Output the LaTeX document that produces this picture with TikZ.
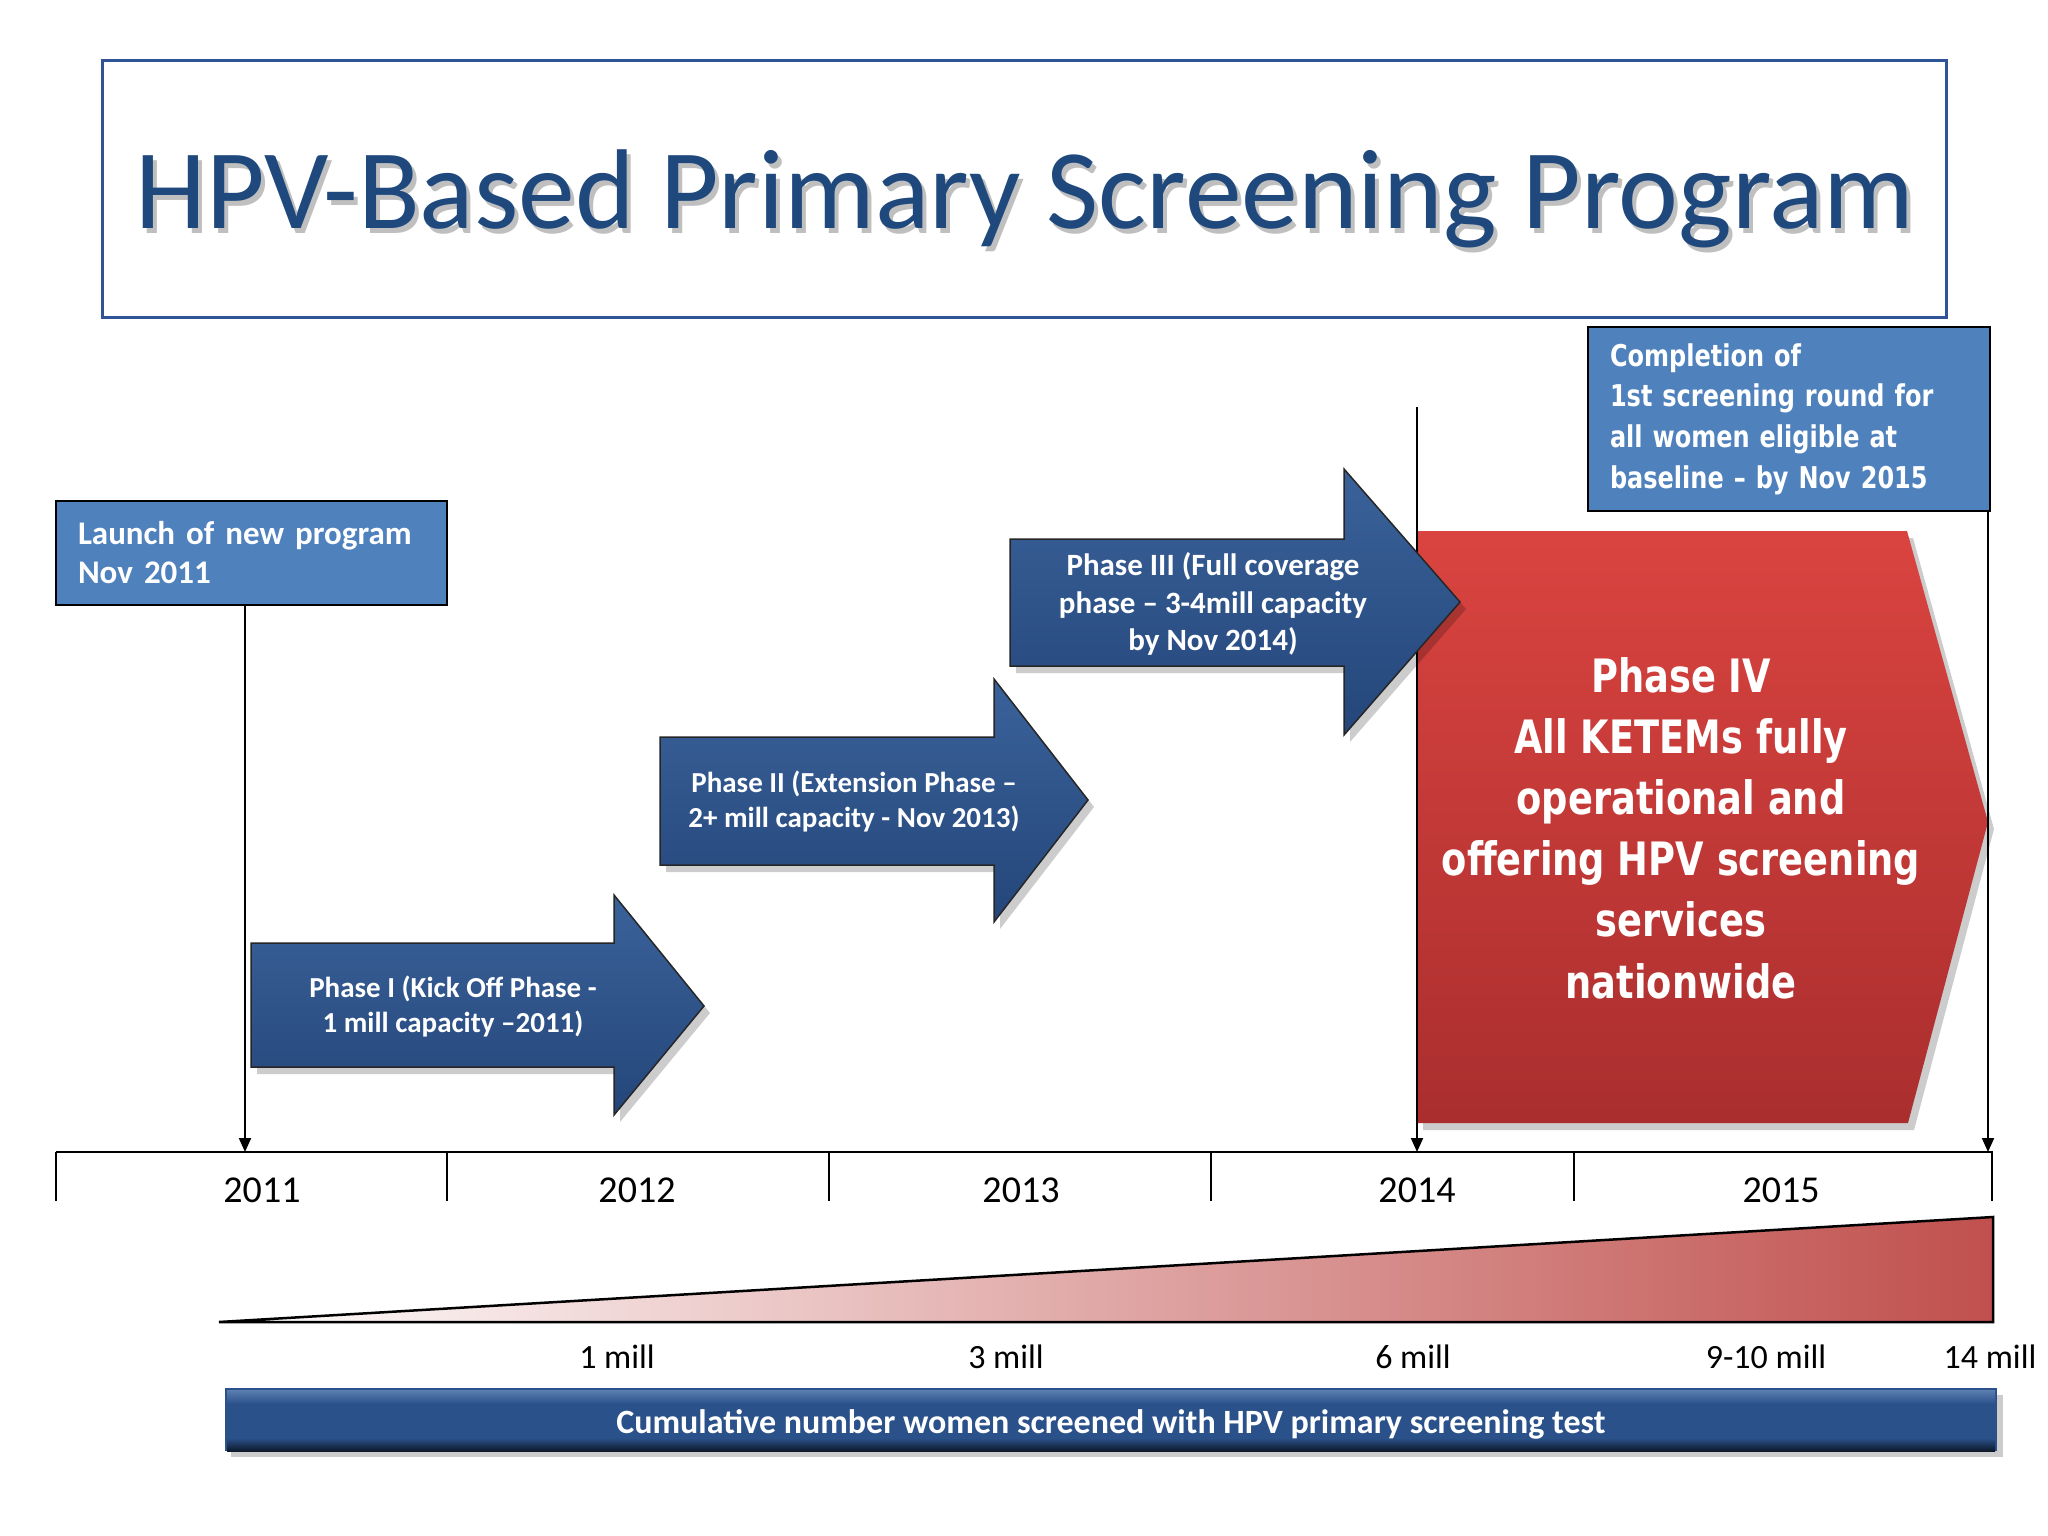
\documentclass[tikz,border=0pt]{standalone}
\usepackage{fontspec}
\setmainfont{Carlito}
\newfontfamily\tahoma[FakeStretch=0.8]{DejaVu Sans}
\usetikzlibrary{arrows.meta}
\definecolor{titleblue}{RGB}{31,73,125}
\definecolor{frameblue}{RGB}{47,85,151}
\definecolor{boxblue}{RGB}{79,129,189}
\definecolor{arrowblueL}{RGB}{58,98,154}
\definecolor{arrowblueD}{RGB}{36,70,122}
\definecolor{barblue}{RGB}{42,81,138}
\definecolor{barblueL}{RGB}{92,126,176}
\definecolor{redtop}{RGB}{218,68,64}
\definecolor{redbot}{RGB}{170,46,46}
\definecolor{gradred}{RGB}{192,80,77}
\tikzset{
  vline/.style={line width=2pt, -{Triangle[length=14pt,width=12pt]}},
  bluebox/.style={draw=black, line width=2pt, fill=boxblue, text=white, align=left, inner ysep=0pt},
  phasetext/.style={text=white, align=center, inner sep=0pt, font=\bfseries\fontsize{29}{35}\selectfont},
  arrowshape/.style={draw=black!85, line width=1.5pt, top color=arrowblueL, bottom color=arrowblueD},
  shadowshape/.style={fill=black, opacity=0.2, shift={(6,7)}},
  yearlbl/.style={anchor=base, inner sep=0pt, font=\fontsize{38}{46}\selectfont},
  milllbl/.style={anchor=base, inner sep=0pt, font=\fontsize{34}{40}\selectfont},
  tick/.style={line width=1.5pt},
}
\begin{document}
\begin{tikzpicture}[x=1pt,y=-1pt]
\useasboundingbox (0,0) rectangle (2048,1536);
\fill[white] (0,0) rectangle (2048,1536);

% title
\node[draw=frameblue, line width=3pt, minimum width=1844pt, minimum height=256pt, inner sep=0pt] (titlebox) at (1024,189) {};
\node[anchor=base, inner sep=0pt, text=black, opacity=0.25, font=\fontsize{113.5}{136}\selectfont] (titleshadow) at (1029,233) {HPV-Based Primary Screening Program};
\node[anchor=base, inner sep=0pt, text=titleblue, font=\fontsize{113.5}{136}\selectfont] (title) at (1025,228) {HPV-Based Primary Screening Program};

% red phase IV shape
\path[shadowshape] (1417,531) -- (1907,531) -- (1988,822) -- (1908,1123) -- (1417,1123) -- cycle;
\path[top color=redtop, bottom color=redbot] (1417,531) -- (1907,531) -- (1988,822) -- (1908,1123) -- (1417,1123) -- cycle;
\node[text=white, align=center, inner sep=0pt, font=\tahoma\bfseries\fontsize{46}{61.2}\selectfont] (phase4) at (1681,828)
  {Phase IV\\All KETEMs fully\\operational and\\offering HPV screening\\services\\nationwide};

% boxes
\node[bluebox, minimum width=391pt, minimum height=104pt, text width=347pt, inner xsep=22pt,
      font=\bfseries\fontsize{33}{39}\selectfont] (launch) at (251.5,553) {Launch of new program\\Nov 2011};
\node[bluebox, minimum width=402pt, minimum height=184pt, text width=358pt, inner xsep=22pt,
      font=\tahoma\bfseries\fontsize{30}{40.7}\selectfont] (complete) at (1789,419)
  {Completion of\\1st screening round for\\all women eligible at\\baseline – by Nov 2015};

% timeline
\coordinate (tl0) at (56,1152);
\coordinate (tl1) at (1993,1152);
\coordinate (t2011) at (245,1152);
\coordinate (m2014top) at (1417,407);
\coordinate (t2014) at (1417,1152);
\coordinate (t2015end) at (1988,1152);
\draw[line width=2.5pt] (tl0) -- (tl1);
\foreach \xx in {56,447,829,1211,1574,1992} \draw[tick] (\xx,1152) -- (\xx,1201);

% vertical markers
\draw[vline] (launch.south -| t2011) -- (t2011);
\draw[vline] (m2014top) -- (t2014);
\draw[vline] (complete.south -| t2015end) -- (t2015end);

% phase arrows
\path[shadowshape] (251,943) -- (614,943) -- (614,895) -- (704,1006) -- (614,1115) -- (614,1067) -- (251,1067) -- cycle;
\path[arrowshape] (251,943) -- (614,943) -- (614,895) -- (704,1006) -- (614,1115) -- (614,1067) -- (251,1067) -- cycle;
\node[phasetext] (phase1) at (453,1007) {Phase I (Kick Off Phase -\\1 mill capacity –2011)};

\path[shadowshape] (660,737) -- (994,737) -- (994,679) -- (1088,800) -- (994,922) -- (994,865) -- (660,865) -- cycle;
\path[arrowshape] (660,737) -- (994,737) -- (994,679) -- (1088,800) -- (994,922) -- (994,865) -- (660,865) -- cycle;
\node[phasetext] (phase2) at (854,802) {Phase II (Extension Phase –\\2+ mill capacity - Nov 2013)};

\path[shadowshape] (1010,539) -- (1344,539) -- (1344,469) -- (1460,602) -- (1344,735) -- (1344,666) -- (1010,666) -- cycle;
\path[arrowshape] (1010,539) -- (1344,539) -- (1344,469) -- (1460,602) -- (1344,735) -- (1344,666) -- (1010,666) -- cycle;
\node[phasetext, font=\bfseries\fontsize{31}{37.5}\selectfont] (phase3) at (1213,604) {Phase III (Full coverage\\phase – 3-4mill capacity\\by Nov 2014)};

% years
\node[yearlbl] (y2011) at (262,1202) {2011};
\node[yearlbl] (y2012) at (637,1202) {2012};
\node[yearlbl] (y2013) at (1021,1202) {2013};
\node[yearlbl] (y2014) at (1417,1202) {2014};
\node[yearlbl] (y2015) at (1781,1202) {2015};

% gradient wedge
\path[draw=black, line width=2.5pt, left color=white, middle color=white!70!gradred, right color=gradred] (219,1322) -- (1993,1217) -- (1993,1322) -- cycle;

% mill labels
\node[milllbl] (m1) at (617,1368) {1 mill};
\node[milllbl] (m3) at (1006,1368) {3 mill};
\node[milllbl] (m6) at (1413,1368) {6 mill};
\node[milllbl] (m9) at (1766,1368) {9-10 mill};
\node[milllbl] (m14) at (1990,1368) {14 mill};

% cumulative bar
\path[fill=black, opacity=0.2] (231,1395) rectangle (2003,1457);
\path[fill=barblue] (225,1388) rectangle (1997,1451);
\path[top color=barblueL, bottom color=barblue] (227,1390) rectangle (1995,1404);
\path[top color=barblue, bottom color=black!70!barblue] (227,1438) rectangle (1995,1451);
\node[text=white, inner sep=0pt, text height=30pt, text depth=3pt, font=\bfseries\fontsize{34}{40}\selectfont] (cum) at (1111,1419.5)
  {Cumulative number women screened with HPV primary screening test};
\end{tikzpicture}
\end{document}
